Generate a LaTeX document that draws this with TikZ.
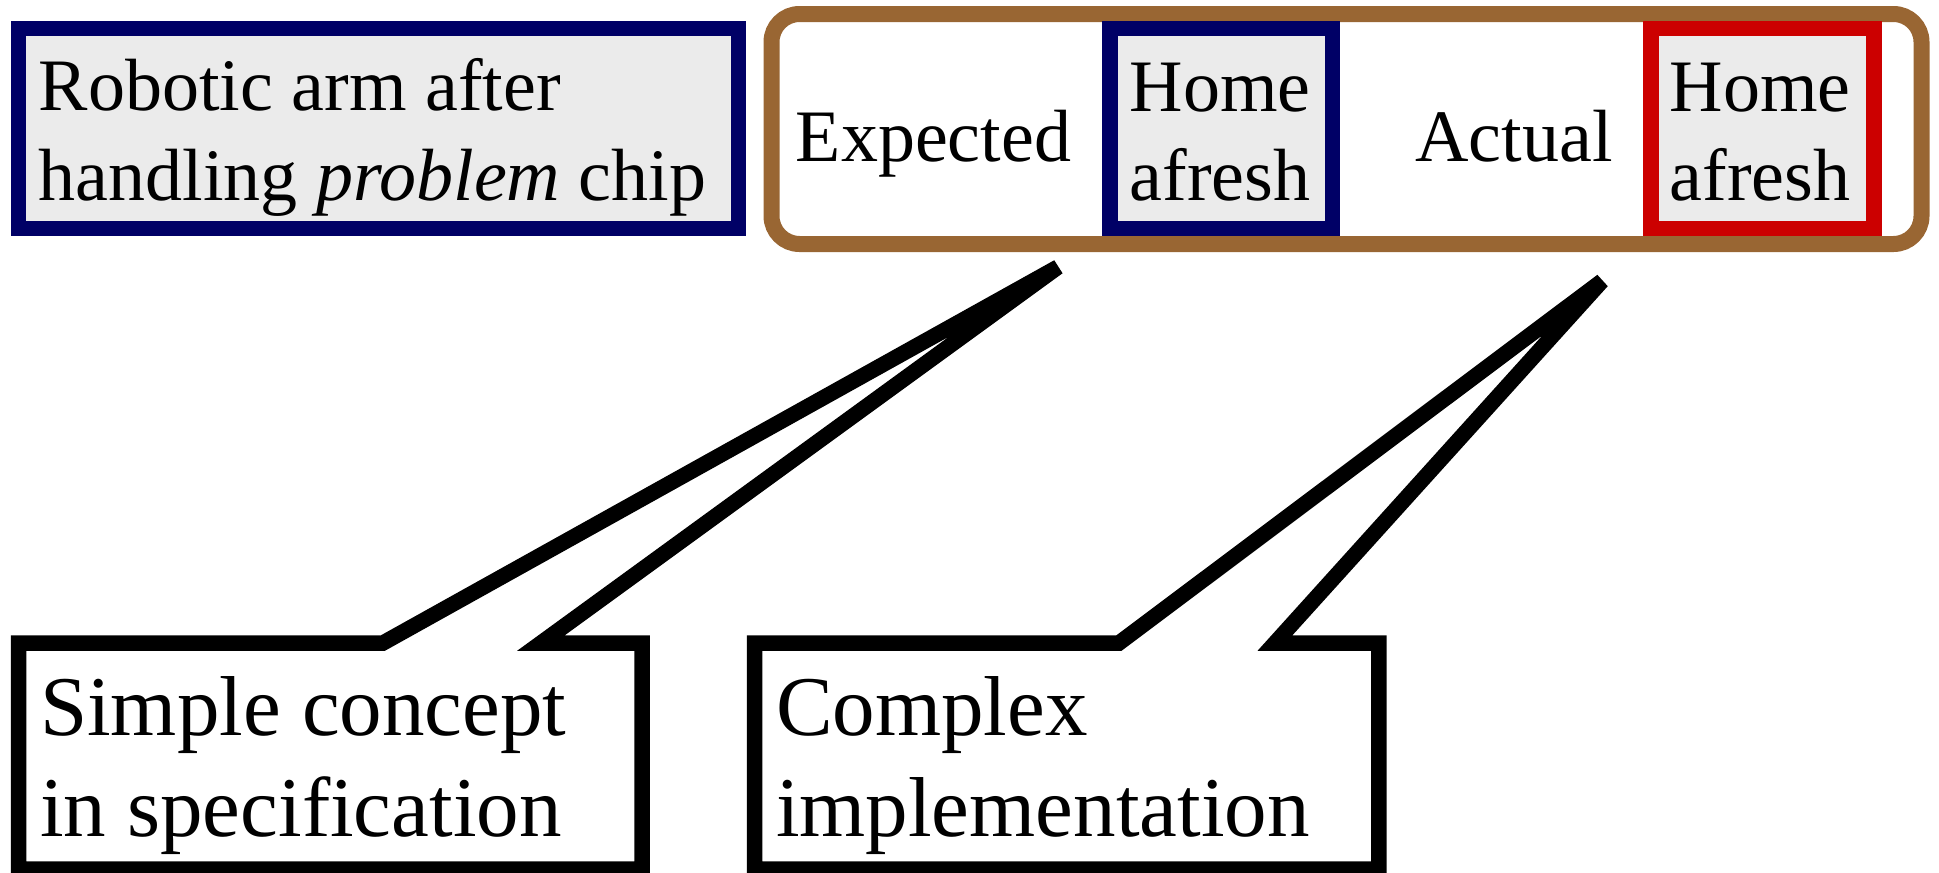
\documentclass[tikz,border=0pt]{standalone}
\usepackage{fontspec}
\setmainfont{Liberation Serif}
\definecolor{navyb}{HTML}{000066}
\definecolor{redb}{HTML}{CC0000}
\definecolor{brownb}{HTML}{996633}
\definecolor{grayf}{HTML}{EBEBEB}
\tikzset{
  box/.style={draw, line width=7.75pt, inner sep=0pt, outer sep=0pt, fill=grayf},
  smalltxt/.style={font=\fontsize{37}{44}\selectfont, inner sep=0pt, outer sep=0pt},
  bigtxt/.style={font=\fontsize{42.5}{51}\selectfont, inner sep=0pt, outer sep=0pt},
  callout/.style={draw=black, line width=7.75pt, fill=white},
}
\begin{document}
\begin{tikzpicture}[x=0.5pt,y=-0.5pt]
\useasboundingbox (0,0) rectangle (1939,873);
% left box
\node[box, draw=navyb, minimum width=360pt, minimum height=100pt] (robot) at (378.5,128.5) {};
\node[smalltxt, anchor=base west] (r1) at (39,110) {Robotic arm after};
\node[smalltxt, anchor=base west] (r2) at (39,200) {handling \textit{problem} chip};
% frame
\node[draw=brownb, line width=8pt, rounded corners=14pt, fill=white, inner sep=0pt, outer sep=0pt,
      minimum width=575pt, minimum height=115pt] (frame) at (1346.5,129) {};
\node[box, draw=navyb, minimum width=111.25pt, minimum height=100pt] (homeA) at (1221.25,128.5) {};
\node[box, draw=redb, minimum width=111.5pt, minimum height=100pt] (homeB) at (1762.5,128.5) {};
\node[smalltxt, anchor=base] (exp) at (933.5,161.5) {Expected};
\node[smalltxt, anchor=base] (h1) at (1220,111) {Home};
\node[smalltxt, anchor=base] (a1) at (1220,200) {afresh};
\node[smalltxt, anchor=base] (act) at (1514,161.5) {Actual};
\node[smalltxt, anchor=base] (h2) at (1760,111) {Home};
\node[smalltxt, anchor=base] (a2) at (1760,200) {afresh};
% callouts
\coordinate (t1) at (1058,267);
\coordinate (t2) at (1602,281);
\draw[callout] (18.5,869) -- (18.5,643) -- (383,643) -- (t1) -- (541,643) -- (642,643) -- (642,869) -- cycle;
\draw[callout] (754.7,869) -- (754.7,643) -- (1119,643) -- (t2) -- (1275,643) -- (1378.8,643) -- (1378.8,869) -- cycle;
\node[bigtxt, anchor=base west] (s1) at (40,735) {Simple concept};
\node[bigtxt, anchor=base west] (s2) at (40,836.5) {in specification};
\node[bigtxt, anchor=base west] (c1) at (776,735) {Complex};
\node[bigtxt, anchor=base west] (c2) at (776,836.5) {implementation};
\end{tikzpicture}
\end{document}
